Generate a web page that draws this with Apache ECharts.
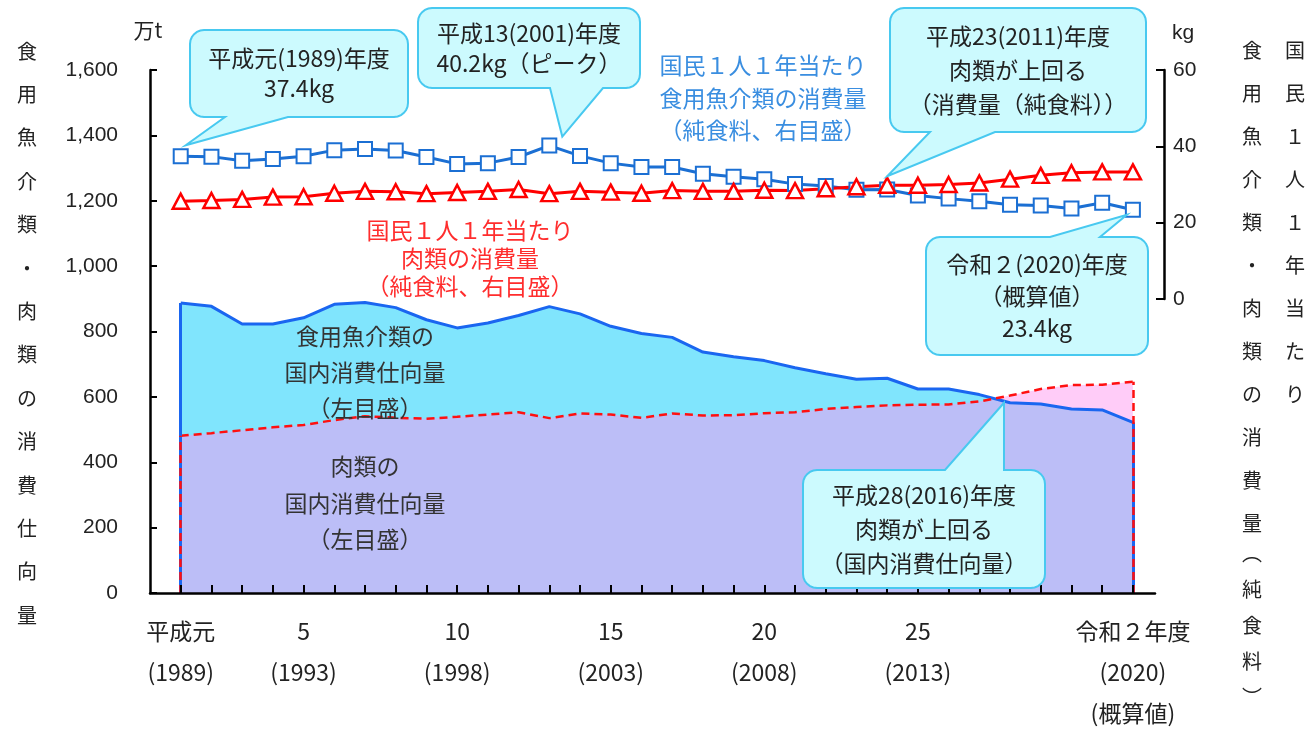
<!DOCTYPE html>
<html>
<head>
<meta charset="utf-8">
<script src="https://cdn.jsdelivr.net/npm/echarts@6/dist/echarts.min.js"></script>
<style>
html, body { margin: 0; padding: 0; background: #fff; }
#main { width: 1306px; height: 734px; }
</style>
</head>
<body>
<div id="main"></div>
<script>
// 年度
var years = [1989, 1990, 1991, 1992, 1993, 1994, 1995, 1996, 1997, 1998,
             1999, 2000, 2001, 2002, 2003, 2004, 2005, 2006, 2007, 2008,
             2009, 2010, 2011, 2012, 2013, 2014, 2015, 2016, 2017, 2018,
             2019, 2020];
// 国内消費仕向量（万t、左目盛）
var fishDomestic = [887, 877, 823, 823, 842, 883, 889, 873, 836, 811,
                    826, 849, 876, 854, 816, 794, 782, 737, 723, 711,
                    689, 671, 654, 657, 624, 624, 607, 582, 578, 563,
                    560, 522];
var meatDomestic = [481, 489, 498, 507, 514, 529, 541, 536, 533, 539,
                    546, 553, 535, 549, 546, 536, 549, 543, 544, 550,
                    553, 563, 569, 574, 576, 577, 586, 604, 624, 636,
                    637, 646];
// 国民1人1年当たり消費量（kg、右目盛）
var fishPerCap = [37.4, 37.3, 36.2, 36.7, 37.4, 39.0, 39.3, 38.9, 37.2, 35.4,
                  35.6, 37.2, 40.2, 37.5, 35.6, 34.6, 34.6, 32.8, 32.0, 31.4,
                  30.1, 29.6, 28.6, 28.7, 27.1, 26.3, 25.6, 24.7, 24.5, 23.7,
                  25.2, 23.4];
var meatPerCap = [25.6, 25.8, 26.1, 26.7, 26.8, 27.7, 28.2, 28.1, 27.6, 27.9,
                  28.2, 28.7, 27.6, 28.2, 28.0, 27.7, 28.4, 28.2, 28.2, 28.5,
                  28.4, 28.9, 29.4, 29.8, 29.8, 30.0, 30.4, 31.4, 32.4, 33.1,
                  33.3, 33.3];
// x軸の目盛ラベル
var tickYears = [1989, 1993, 1998, 2003, 2008, 2013, 2020];
var tickEra = ['平成元', '5', '10', '15', '20', '25', '令和２年度'];
var tickNote = ['', '', '', '', '', '', '(概算値)'];

var FONT = 'Noto Sans CJK JP';
var NUMFONT = 'Liberation Sans';
var last = years.length - 1;

function pairs(vals) {
    return years.map(function (y, i) { return [y, vals[i]]; });
}

var myChart = echarts.init(document.getElementById('main'));

var option = {
    animation: false,
    textStyle: { fontFamily: FONT },
    grid: [
        { left: 150, right: 151, top: 70, bottom: 131 },
        { left: 150, right: 151, top: 70, bottom: 435 }
    ],
    xAxis: [
        {
            type: 'value', gridIndex: 0, min: 1988, max: 2020.72, z: 10,
            splitLine: { show: false },
            axisLine: { lineStyle: { color: '#000', width: 2.5 } },
            axisTick: { inside: true, length: 8, customValues: years,
                        lineStyle: { color: '#000', width: 2 } },
            axisLabel: {
                customValues: tickYears, margin: 18,
                fontSize: 23, lineHeight: 41, color: '#222', fontFamily: FONT,
                formatter: function (v) {
                    var i = tickYears.indexOf(Math.round(v));
                    if (i < 0) return '';
                    var s = tickEra[i] + '\n(' + tickYears[i] + ')';
                    if (tickNote[i]) s += '\n' + tickNote[i];
                    return s;
                }
            }
        },
        { type: 'value', gridIndex: 1, min: 1988, max: 2020.72, show: false }
    ],
    yAxis: [
        {
            type: 'value', gridIndex: 0, min: 0, max: 1600, interval: 200,
            splitLine: { show: false },
            axisLine: { show: true, lineStyle: { color: '#000', width: 2.5 } },
            axisTick: { show: true, inside: true, length: 7, lineStyle: { color: '#000', width: 2 } },
            axisLabel: { margin: 32, fontSize: 21, color: '#222', fontFamily: NUMFONT }
        },
        {
            type: 'value', gridIndex: 1, position: 'right', offset: 9,
            min: 0, max: 60, interval: 20,
            splitLine: { show: false },
            axisLine: { show: true, lineStyle: { color: '#000', width: 2.5 } },
            axisTick: { show: true, inside: true, length: 8, lineStyle: { color: '#000', width: 2 } },
            axisLabel: { margin: 9, fontSize: 21, color: '#222', fontFamily: NUMFONT }
        }
    ],
    series: [
        {
            name: '食用魚介類の国内消費仕向量',
            type: 'line', xAxisIndex: 0, yAxisIndex: 0,
            data: pairs(fishDomestic),
            symbol: 'none',
            lineStyle: { color: '#1a66f0', width: 3 },
            areaStyle: { color: '#80e5fd', opacity: 1 },
            markLine: {
                silent: true, symbol: 'none', label: { show: false },
                lineStyle: { color: '#1a66f0', width: 3, type: 'solid' },
                data: [
                    [{ coord: [years[0], 0] }, { coord: [years[0], fishDomestic[0]] }],
                    [{ coord: [years[last], 0] }, { coord: [years[last], fishDomestic[last]] }]
                ]
            }
        },
        {
            name: '肉類の国内消費仕向量',
            type: 'line', xAxisIndex: 0, yAxisIndex: 0,
            data: pairs(meatDomestic),
            symbol: 'none',
            lineStyle: { color: '#ff1010', width: 2.5, type: [8, 5] },
            areaStyle: { color: 'rgb(255,147,240)', opacity: 0.47 },
            markLine: {
                silent: true, symbol: 'none', label: { show: false },
                lineStyle: { color: '#ff1010', width: 2.5, type: [8, 5] },
                data: [
                    [{ coord: [years[0], 0] }, { coord: [years[0], meatDomestic[0]] }],
                    [{ coord: [years[last], 0] }, { coord: [years[last], meatDomestic[last]] }]
                ]
            }
        },
        {
            name: '食用魚介類の消費量',
            type: 'line', xAxisIndex: 1, yAxisIndex: 1,
            data: pairs(fishPerCap),
            symbol: 'rect', symbolSize: 14,
            itemStyle: { color: '#fff', borderColor: '#1b6fd3', borderWidth: 2 },
            lineStyle: { color: '#1b6fd3', width: 3 }
        },
        {
            name: '肉類の消費量',
            type: 'line', xAxisIndex: 1, yAxisIndex: 1,
            data: pairs(meatPerCap),
            symbol: 'triangle', symbolSize: [16, 15],
            itemStyle: { color: '#fff', borderColor: '#ff0000', borderWidth: 2.5 },
            lineStyle: { color: '#ff0000', width: 3 }
        }
    ]
};

myChart.setOption(option);

// 吹き出し
var callouts = [
    { lines: ['平成元(1989)年度', '37.4kg'], box: [190, 30, 218, 87], lh: 30,
      side: 'bottom', base: [225, 288], grid: 1, at: [years[0], fishPerCap[0]], off: [5, -11] },
    { lines: ['平成13(2001)年度', '40.2kg（ピーク）'], box: [418, 8, 222, 80], lh: 30,
      side: 'bottom', base: [550, 603], grid: 1, at: [2001, fishPerCap[years.indexOf(2001)]], off: [13, -9] },
    { lines: ['平成23(2011)年度', '肉類が上回る', '（消費量（純食料））'], box: [890, 8, 256, 124], lh: 34,
      side: 'bottom', base: [930, 995], grid: 1, at: [2012, meatPerCap[years.indexOf(2012)]], off: [0, -9] },
    { lines: ['令和２(2020)年度', '（概算値）', '23.4kg'], box: [926, 237, 222, 118], lh: 32,
      side: 'top', base: [1050, 1100], grid: 1, at: [2020, fishPerCap[last]], off: [-6, 5] },
    { lines: ['平成28(2016)年度', '肉類が上回る', '（国内消費仕向量）'], box: [803, 470, 242, 118], lh: 34,
      side: 'top', base: [945, 1004], grid: 0, at: [2016, fishDomestic[years.indexOf(2016)]], off: [-6, 0] }
];

function arc(pts, cx, cy, r, a0, a1) {
    for (var k = 0; k <= 6; k++) {
        var a = (a0 + (a1 - a0) * k / 6) * Math.PI / 180;
        pts.push([cx + r * Math.cos(a), cy + r * Math.sin(a)]);
    }
}

function bubblePoints(b, side, base, tip) {
    var x = b[0], y = b[1], w = b[2], h = b[3], r = 14;
    var pts = [];
    arc(pts, x + r, y + r, r, 180, 270);
    if (side === 'top') {
        pts.push([base[0], y], tip, [base[1], y]);
    }
    arc(pts, x + w - r, y + r, r, 270, 360);
    arc(pts, x + w - r, y + h - r, r, 0, 90);
    if (side === 'bottom') {
        pts.push([base[1], y + h], tip, [base[0], y + h]);
    }
    arc(pts, x + r, y + h - r, r, 90, 180);
    return pts;
}

function label(x, y, lines, size, lh, color) {
    return {
        type: 'text', x: x, y: y, z: 110,
        style: { text: lines.join('\n'), fontSize: size, lineHeight: lh, fill: color,
                 fontFamily: FONT, align: 'center', verticalAlign: 'middle' }
    };
}

function vtext(x, top, chars, step, size) {
    return {
        type: 'text', x: x, y: top, z: 110,
        style: { text: chars.split('').join('\n'), fontSize: size, lineHeight: step, fill: '#222',
                 fontFamily: FONT, align: 'center', verticalAlign: 'top' }
    };
}

var elements = [];
callouts.forEach(function (c) {
    var pt = myChart.convertToPixel({ gridIndex: c.grid }, c.at);
    var tip = [pt[0] + c.off[0], pt[1] + c.off[1]];
    elements.push({
        type: 'polygon', z: 100,
        shape: { points: bubblePoints(c.box, c.side, c.base, tip) },
        style: { fill: '#ccfafe', stroke: '#48c9f0', lineWidth: 2 }
    });
    elements.push(label(c.box[0] + c.box[2] / 2, c.box[1] + c.box[3] / 2, c.lines, 23, c.lh, '#222'));
});

// 系列の説明
elements.push(label(763, 98, ['国民１人１年当たり', '食用魚介類の消費量', '（純食料、右目盛）'], 23, 32.5, '#3a8ee0'));
elements.push(label(470, 258, ['国民１人１年当たり', '肉類の消費量', '（純食料、右目盛）'], 23, 28, '#ff2d2d'));
elements.push(label(365, 372, ['食用魚介類の', '国内消費仕向量', '（左目盛）'], 23, 36, '#333'));
elements.push(label(365, 503, ['肉類の', '国内消費仕向量', '（左目盛）'], 23, 36.5, '#333'));

// 軸の単位・タイトル
elements.push({ type: 'text', x: 148, y: 30, z: 110,
    style: { text: '万t', fontSize: 21, fill: '#222', fontFamily: FONT, align: 'center', verticalAlign: 'middle' } });
elements.push({ type: 'text', x: 1172, y: 33, z: 110,
    style: { text: 'kg', fontSize: 21, fill: '#222', fontFamily: NUMFONT, align: 'left', verticalAlign: 'middle' } });
elements.push(vtext(27, 51 - 21.7, '食用魚介類・肉類の消費仕向量', 43.4, 20));
elements.push(vtext(1252, 50 - 21.5, '食用魚介類・肉類の消費量', 43, 20));
elements.push(vtext(1252, 553 - 18, '︵純食料︶', 36, 20));
elements.push(vtext(1295, 50 - 21.5, '国民１人１年当たり', 43, 20));

myChart.setOption({ graphic: { elements: elements } });
</script>
</body>
</html>
